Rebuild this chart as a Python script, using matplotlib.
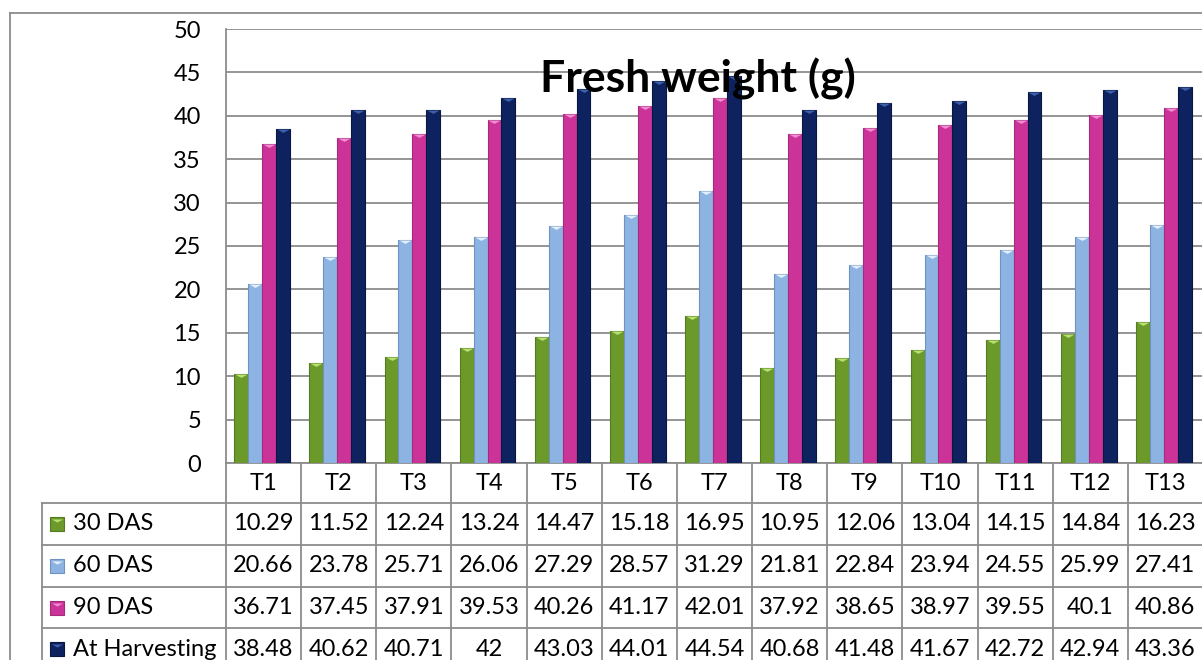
import matplotlib
matplotlib.use("Agg")
import matplotlib.pyplot as plt
import matplotlib.transforms as mtransforms
from matplotlib.lines import Line2D
from matplotlib.path import Path
import numpy as np

plt.rcParams['font.family'] = ['Lato', 'DejaVu Sans']

# datos
categories = ['T1', 'T2', 'T3', 'T4', 'T5', 'T6', 'T7', 'T8', 'T9', 'T10', 'T11', 'T12', 'T13']
das30 = [10.29, 11.52, 12.24, 13.24, 14.47, 15.18, 16.95, 10.95, 12.06, 13.04, 14.15, 14.84, 16.23]
das60 = [20.66, 23.78, 25.71, 26.06, 27.29, 28.57, 31.29, 21.81, 22.84, 23.94, 24.55, 25.99, 27.41]
das90 = [36.71, 37.45, 37.91, 39.53, 40.26, 41.17, 42.01, 37.92, 38.65, 38.97, 39.55, 40.1, 40.86]
harvest = [38.48, 40.62, 40.71, 42, 43.03, 44.01, 44.54, 40.68, 41.48, 41.67, 42.72, 42.94, 43.36]
series_names = ['30 DAS', '60 DAS', '90 DAS', 'At Harvesting']
yticks = [0, 5, 10, 15, 20, 25, 30, 35, 40, 45, 50]
title = 'Fresh weight (g)'

series = [das30, das60, das90, harvest]
colors = ['#6b9a2b', '#8db3e2', '#cc3399', '#0d225f']
tops = ['#b8e070', '#e4effc', '#f08cd2', '#3c5fa6']
edges = ['#557a22', '#6f93c0', '#a62a7c', '#081640']

W, H = 1202, 660
fig = plt.figure(figsize=(W / 100, H / 100), dpi=100)

def fx(px):
    return px / W

def fy(py):
    return 1 - py / H

grid_c = '#8c8c8c'
ax = fig.add_axes([fx(226), fy(463), fx(1203) - fx(226), fy(29) - fy(463)])
x = np.arange(len(categories))
ax.set_xlim(-0.5, len(categories) - 0.5)
ax.set_ylim(0, 50)

# barras
bw = 0.185
tri = Path([(-1, 0), (1, 0), (0, -0.55), (-1, 0)], [Path.MOVETO, Path.LINETO, Path.LINETO, Path.CLOSEPOLY])
for i, vals in enumerate(series):
    xs = x + (i - 1.5) * bw - 0.02
    ax.bar(xs, vals, width=bw, color=colors[i], edgecolor=edges[i], linewidth=0.8, zorder=3)
    ax.plot(xs, vals, linestyle='none', marker=tri, markersize=9, color=tops[i],
            markeredgewidth=0, zorder=4)

ax.set_yticks(yticks)
ax.set_xticks([])
ax.yaxis.grid(True, color=grid_c, linewidth=1.3)
ax.set_axisbelow(True)
ax.tick_params(axis='y', length=0, pad=18, labelsize=17)
for s in ['top', 'right']:
    ax.spines[s].set_visible(False)
ax.spines['left'].set_color(grid_c)
ax.spines['bottom'].set_color(grid_c)
ax.spines['left'].set_linewidth(1.3)
ax.spines['bottom'].set_linewidth(1.3)

# tabla de datos
bt = mtransforms.blended_transform_factory(ax.transData, fig.transFigure)
rows_y = [463, 503, 545, 587, 628, 670]
for yy in rows_y[1:-1]:
    fig.add_artist(Line2D([fx(42), fx(1210)], [fy(yy), fy(yy)], color=grid_c, lw=1.3))
fig.add_artist(Line2D([fx(42), fx(42)], [fy(503), fy(670)], color=grid_c, lw=1.3))
for b in np.arange(len(categories) + 1) - 0.5:
    fig.add_artist(Line2D([b, b], [fy(463), fy(670)], color=grid_c, lw=1.3, transform=bt))

for j, c in enumerate(categories):
    fig.text(j, fy((rows_y[0] + rows_y[1]) / 2), c, transform=bt, ha='center', va='center', fontsize=17)
for i, vals in enumerate(series):
    yc = fy((rows_y[i + 1] + rows_y[i + 2]) / 2)
    fig.add_artist(Line2D([fx(57)], [yc], marker='s', markersize=10, color=colors[i],
                          markeredgecolor=edges[i], markeredgewidth=0.8, transform=fig.transFigure))
    fig.add_artist(Line2D([fx(57)], [yc + 5 / H], marker=tri, markersize=8, color=tops[i],
                          markeredgewidth=0, transform=fig.transFigure))
    fig.text(fx(73), yc, series_names[i], ha='left', va='center', fontsize=17)
    for j, v in enumerate(vals):
        fig.text(j, yc, f'{v:g}', transform=bt, ha='center', va='center', fontsize=17)

# marco exterior
fig.add_artist(Line2D([fx(10), fx(10)], [fy(13), fy(670)], color=grid_c, lw=1.3))
fig.add_artist(Line2D([fx(10), fx(1210)], [fy(13), fy(13)], color=grid_c, lw=1.3))

fig.text(fx(698), fy(93), title, ha='center', va='baseline', fontsize=32, fontweight='bold', zorder=10)

fig.savefig('out.png', dpi=100)
